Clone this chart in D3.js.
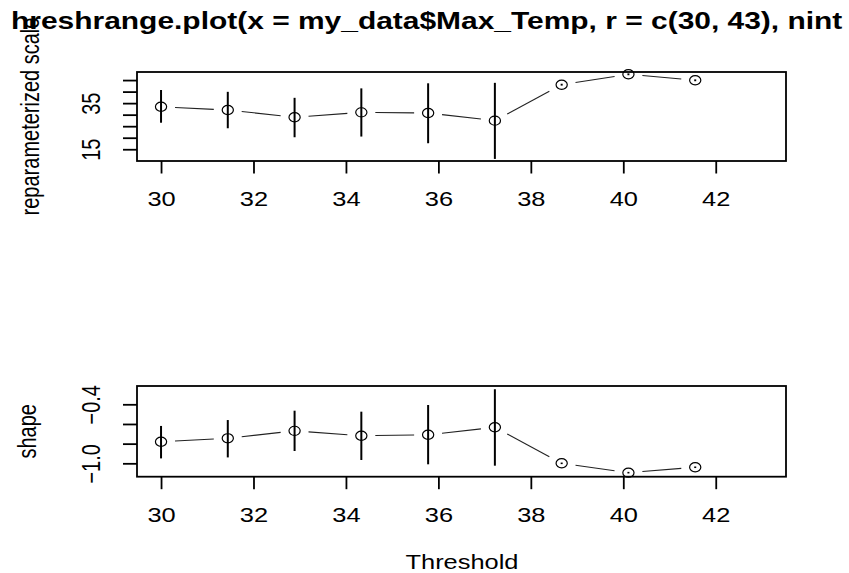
<!DOCTYPE html>
<html><head><meta charset="utf-8">
<script src="https://cdn.jsdelivr.net/npm/d3@7"></script>
<style>
html,body{margin:0;padding:0;background:#fff;}
svg{display:block;}
text{font-family:'Liberation Sans',Arial,sans-serif;fill:#000;}
</style></head>
<body>
<script>
// ---- data ----
const thresholds = [30, 31.444, 32.889, 34.333, 35.778, 37.222, 38.667, 40.111, 41.556];
const scaleVals  = [33.4, 32.0, 28.9, 31.0, 30.7, 27.4, 43.0, 47.5, 44.9];
const scaleLow   = [26.5, 24.1, 20.2, 20.5, 17.6, 10.8, 42.6, 47.1, 44.5];
const scaleHigh  = [40.7, 39.9, 37.3, 41.4, 43.6, 43.8, 43.4, 47.9, 45.3];
const shapeVals  = [-0.78, -0.746, -0.67, -0.72, -0.71, -0.634, -1.0, -1.095, -1.04];
const shapeLow   = [-0.95, -0.94, -0.875, -0.966, -1.01, -1.024, -1.008, -1.103, -1.048];
const shapeHigh  = [-0.62, -0.56, -0.465, -0.475, -0.407, -0.247, -0.992, -1.087, -1.032];
const xTicks = [30, 32, 34, 36, 38, 40, 42];
const scaleTicks = [15, 20, 25, 30, 35, 40, 45];
const scaleTickLabels = [15, 35];
const shapeTicks = [-1.0, -0.8, -0.6, -0.4];
const shapeTickLabels = [-1.0, -0.4];
// visible part of the (page-wider) title
const titleText = "hreshrange.plot(x = my_data$Max_Temp, r = c(30, 43), nint";
const xLabel = "Threshold";
const yLabels = ["reparameterized scale", "shape"];

const W = 849, H = 573, SX = 1.27;
const svg = d3.select("body").append("svg").attr("width", W).attr("height", H);

const panels = [
  {y0: 72, y1: 161, dom: [9.9, 48.5], v: scaleVals, lo: scaleLow, hi: scaleHigh,
   ticks: scaleTicks, labs: scaleTickLabels, fmt: d => String(d), ylab: yLabels[0], ylabX: 39},
  {y0: 386, y1: 476.7, dom: [-1.136, -0.214], v: shapeVals, lo: shapeLow, hi: shapeHigh,
   ticks: shapeTicks, labs: shapeTickLabels, fmt: d => d3.format(".1f")(d).replace("-", "\u2212"), ylab: yLabels[1], ylabX: 36}
];
const X0 = 137, X1 = 786;
const x = d3.scaleLinear().domain([29.48, 43.52]).range([X0, X1]);

panels.forEach(p => {
  const y = d3.scaleLinear().domain(p.dom).range([p.y1, p.y0]);
  const g = svg.append("g");

  // connecting lines with gaps (type = "b")
  const gap = 14;
  for (let i = 0; i < thresholds.length - 1; i++) {
    const ax = x(thresholds[i]), ay = y(p.v[i]);
    const bx = x(thresholds[i+1]), by = y(p.v[i+1]);
    const dx = bx - ax, dy = by - ay, L = Math.hypot(dx, dy);
    if (L <= 2 * gap) continue;
    const ux = dx / L, uy = dy / L;
    g.append("line")
      .attr("x1", ax + ux * gap).attr("y1", ay + uy * gap)
      .attr("x2", bx - ux * gap).attr("y2", by - uy * gap)
      .attr("stroke", "#222").attr("stroke-width", 1.1);
  }
  // CI bars
  g.selectAll(".bar").data(thresholds).enter().append("line")
    .attr("x1", d => x(d)).attr("x2", d => x(d))
    .attr("y1", (d, i) => y(p.lo[i])).attr("y2", (d, i) => y(p.hi[i]))
    .attr("stroke", "#000").attr("stroke-width", 2);
  // points
  g.selectAll(".pt").data(thresholds).enter().append("ellipse")
    .attr("cx", d => x(d)).attr("cy", (d, i) => y(p.v[i]))
    .attr("rx", 5.6).attr("ry", 4.6)
    .attr("fill", "none").attr("stroke", "#000").attr("stroke-width", 1.2);

  // box
  g.append("rect").attr("x", X0).attr("y", p.y0)
    .attr("width", X1 - X0).attr("height", p.y1 - p.y0)
    .attr("fill", "none").attr("stroke", "#000").attr("stroke-width", 1.8);

  // x axis
  const ax = g.append("g").attr("transform", `translate(0,${p.y1})`)
    .call(d3.axisBottom(x).tickValues(xTicks).tickSize(12.5).tickSizeOuter(0).tickFormat(d3.format("d")));
  ax.select(".domain").remove();
  ax.selectAll(".tick line").attr("stroke", "#000").attr("stroke-width", 1.8);
  ax.selectAll(".tick text").attr("y", 0).attr("dy", 0)
    .attr("transform", `translate(0,45) scale(${SX},1)`)
    .style("font-size", "20px").attr("fill", "#000");

  // y axis
  const ay = g.append("g").attr("transform", `translate(${X0},0)`)
    .call(d3.axisLeft(y).tickValues(p.ticks).tickSize(14).tickSizeOuter(0).tickFormat(p.fmt));
  ay.select(".domain").remove();
  ay.selectAll(".tick line").attr("stroke", "#000").attr("stroke-width", 1.8);
  ay.selectAll(".tick text")
    .text(d => p.labs.some(v => Math.abs(v - d) < 1e-9) ? p.fmt(d) : "")
    .attr("x", 0).attr("y", 0).attr("dy", 0)
    .attr("text-anchor", "middle")
    .attr("transform", `translate(-37,0) scale(${SX},1) rotate(-90)`)
    .style("font-size", "20px").attr("fill", "#000");

  // y label
  svg.append("text").text(p.ylab)
    .attr("text-anchor", "middle")
    .attr("transform", `translate(${p.ylabX},${(p.y0 + p.y1) / 2}) scale(${SX},1) rotate(-90)`)
    .style("font-size", "20px");
});

// x label
svg.append("text").text(xLabel)
  .attr("text-anchor", "middle")
  .attr("transform", `translate(462,569) scale(${SX},1)`)
  .style("font-size", "20px");

// title
const title = svg.append("text").text(titleText)
  .style("font-size", "23px").style("font-weight", "bold");
const tLen = title.node().getComputedTextLength();
const TSX = 832 / tLen;
title.attr("transform", `translate(11,29.3) scale(${TSX},1)`);
</script>
</body></html>
